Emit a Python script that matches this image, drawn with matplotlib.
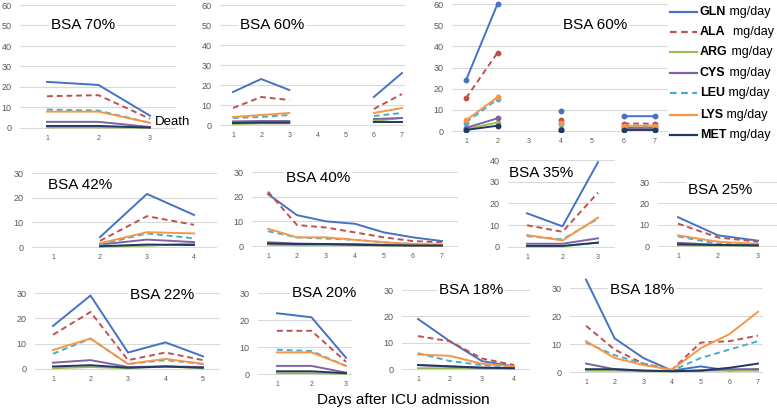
import numpy as np
import matplotlib.pyplot as plt
from matplotlib.lines import Line2D

plt.rcParams['font.family'] = ['Liberation Sans', 'DejaVu Sans']

nan = np.nan

amino = ['GLN', 'ALA', 'ARG', 'CYS', 'LEU', 'LYS', 'MET']
colors = ['#4472C4', '#C0504D', '#9BBB59', '#8064A2', '#4BACC6', '#F79646', '#1F3864']
styles = ['-', '--', '-', '-', '--', '-', '-']

# one row per amino acid (GLN, ALA, ARG, CYS, LEU, LYS, MET), mg/day per day
bsa70 = [[22.5, 21, 6], [15.5, 16, 4.5], [0.3, 0.3, 0.1], [3, 3, 0.5],
         [9, 8.5, 2.5], [8, 8, 2.5], [1, 1, 0.2]]
bsa60a = [[16.5, 23, 17.5, nan, nan, 14, 26],
          [8.5, 14, 12.5, nan, nan, 8, 15.5],
          [0.5, 0.8, 0.8, nan, nan, 2, 3.5],
          [1.8, 2, 2, nan, nan, 3, 3.5],
          [3.5, 4, 5, nan, nan, 4.5, 6],
          [4, 5, 6, nan, nan, 6, 8.5],
          [1, 1.2, 1.2, nan, nan, 1.5, 1.5]]
bsa60b = [[24, 60, nan, 9.5, nan, 7, 7],
          [15.5, 37, nan, 5, nan, 3.5, 3.5],
          [1, 4, nan, 0.5, nan, 1, 1],
          [1.5, 6, nan, 1, nan, 1.5, 1.5],
          [4, 15, nan, 3.5, nan, 2, 2],
          [5, 16, nan, 4, nan, 2.5, 2.5],
          [0.5, 2.5, nan, 0.5, nan, 0.5, 0.5]]
bsa42 = [[nan, 4, 21.5, 13], [nan, 2.5, 12.5, 9], [nan, 0.2, 0.5, 1.5],
         [nan, 1, 3, 2], [nan, 1, 5.5, 3.5], [nan, 1.5, 6, 5.5],
         [nan, 0.3, 1, 0.8]]
bsa40 = [[21, 12.5, 10, 9, 5.5, 3.5, 2],
         [22, 8.5, 7.5, 5.5, 3.5, 2, 1.5],
         [0.5, 0.3, 0.3, 0.3, 0.2, 0.1, 0.1],
         [1.5, 1, 0.8, 0.8, 0.5, 0.3, 0.3],
         [6, 3.5, 3, 2.5, 1.5, 0.8, 0.5],
         [7, 3.5, 3.5, 2.5, 1.5, 0.8, 0.5],
         [1, 0.8, 0.8, 0.5, 0.3, 0.2, 0.2]]
bsa35 = [[15.5, 9.5, 39], [10, 7, 25], [0.3, 0.3, 2], [1.5, 1.5, 4],
         [5, 3.5, 13], [5.5, 3, 13.5], [0.5, 0.5, 2]]
bsa25 = [[13.5, 5, 2.5], [10.5, 4, 2], [0.3, 0.2, 0.1], [1.5, 0.5, 0.3],
         [4.5, 1, 0.5], [5, 2, 1], [0.8, 0.5, 0.3]]
bsa22 = [[17, 29, 6.5, 10.5, 5], [13.5, 22.5, 3.5, 6.5, 3.5],
         [0.3, 0.8, 0.3, 1, 0.3], [2.5, 3.5, 0.8, 1, 0.8],
         [6, 12, 2, 3.5, 2], [7.5, 12, 2, 4, 2], [1, 1.5, 0.5, 1, 0.5]]
bsa20 = [[22.5, 21, 6], [16, 16, 4.5], [0.3, 0.3, 0.1], [3, 3, 0.5],
         [9, 8.5, 3], [8, 8, 3], [1, 1, 0.3]]
bsa18a = [[19, 10.5, 3, 1], [12.5, 10.5, 4, 1.5], [0.3, 0.3, 0.2, 0.1],
          [1.5, 1, 0.5, 0.3], [6, 3, 1.5, 0.8], [5.5, 5, 2, 1],
          [1.5, 1, 0.5, 0.3]]
bsa18b = [[33, 12, 5, 0.5, 2, 0.5, 1],
          [16.5, 8, 3, 0.8, 10.5, 11, 13],
          [0.5, 0.5, 0.3, 0.2, 0.5, 0.5, 0.5],
          [3, 1, 0.5, 0.3, 0.5, 1, 1],
          [10.5, 6, 3, 0.5, 5, 8, 11],
          [11, 5, 2.5, 0.8, 8.5, 13.5, 21.5],
          [1, 1, 0.5, 0.3, 0.5, 1.5, 3]]

W, H = 777, 411
fig = plt.figure(figsize=(W / 100, H / 100), dpi=100)


def panel(data, title, tx, ty, gx0, gx1, t1, tn, y0, yt, ytop, yhi, step, markers=False):
    n = len(data[0])
    xs = (tn - t1) / (n - 1)
    ys = (y0 - yt) / ytop
    ylo = -0.6
    top = y0 - yhi * ys
    bot = y0 - ylo * ys
    ax = fig.add_axes([gx0 / W, 1 - bot / H, (gx1 - gx0) / W, (bot - top) / H])
    ax.set_xlim(1 - (t1 - gx0) / xs, n + (gx1 - tn) / xs)
    ax.set_ylim(ylo, yhi)
    days = np.arange(1, n + 1)
    for row, c, ls in zip(data, colors, styles):
        ax.plot(days, row, color=c, ls=ls, lw=1.4, dashes=(3, 2) if ls == '--' else (None, None),
                marker='o' if markers else None, ms=3.2, clip_on=True)
    ax.set_xticks(days)
    ax.set_yticks(np.arange(0, ytop + 1, step))
    ax.grid(axis='y', color='#D9D9D9', lw=0.8)
    ax.set_axisbelow(True)
    for s in ax.spines.values():
        s.set_visible(False)
    ax.tick_params(axis='y', length=0, labelsize=6.5, labelcolor='#595959', pad=6)
    ax.tick_params(axis='x', length=0, labelsize=5, labelcolor='#595959', pad=4)
    fig.text(tx / W, 1 - ty / H, title, ha='center', va='center', fontsize=11,
             bbox=dict(facecolor='white', edgecolor='none', pad=1.5))
    return ax


ax0 = panel(bsa70, 'BSA 70%', 83, 25, 20, 176, 47, 150, 128, 5, 60, 61, 10)
panel(bsa60a, 'BSA 60%', 272, 25, 220, 405, 233, 402, 125, 5, 60, 61, 10)
panel(bsa60b, 'BSA 60%', 595, 25, 452, 668, 466, 655, 131, 4, 60, 61.5, 10, markers=True)
panel(bsa42, 'BSA 42%', 80, 185, 32, 217, 53, 194, 247, 173, 30, 31, 10)
panel(bsa40, 'BSA 40%', 318, 178, 252, 458, 268, 442, 246, 172, 30, 31, 10)
panel(bsa35, 'BSA 35%', 541, 173, 508, 615, 527, 598, 247, 160, 40, 41, 10)
panel(bsa25, 'BSA 25%', 720, 190, 658, 777, 678, 758, 246, 182, 30, 31, 10)
panel(bsa22, 'BSA 22%', 162, 295, 35, 220, 53, 203, 369, 293, 30, 31, 10)
panel(bsa20, 'BSA 20%', 324, 293, 258, 352, 277, 346, 374, 293, 30, 31, 10)
panel(bsa18a, 'BSA 18%', 471, 290, 402, 530, 418, 514, 369, 290, 30, 31, 10)
panel(bsa18b, 'BSA 18%', 642, 290, 570, 763, 586, 758, 372, 288, 30, 34, 10)

fig.text(155 / W, 1 - 122 / H, 'Death', ha='left', va='center', fontsize=9.5)
fig.text(403 / W, 1 - 400 / H, 'Days after ICU admission', ha='center', va='center', fontsize=11)

# legend drawn by hand: bold name + regular unit
leg_y = [12, 32, 52, 73, 93, 115, 135]
for name, c, ls, ly in zip(amino, colors, styles, leg_y):
    yf = 1 - ly / H
    fig.add_artist(Line2D([670 / W, 697 / W], [yf, yf], color=c, lw=1.6,
                          dashes=(3, 2) if ls == '--' else (None, None)))
    t = fig.text(700 / W, yf, name, ha='left', va='center', fontsize=9, fontweight='bold')
    gap = '  ' if name == 'ALA' else ' '
    ax0.annotate(gap + 'mg/day', xy=(1, 0.5), xycoords=t, ha='left', va='center',
                 fontsize=9, annotation_clip=False)

fig.savefig('out.png', dpi=100)
